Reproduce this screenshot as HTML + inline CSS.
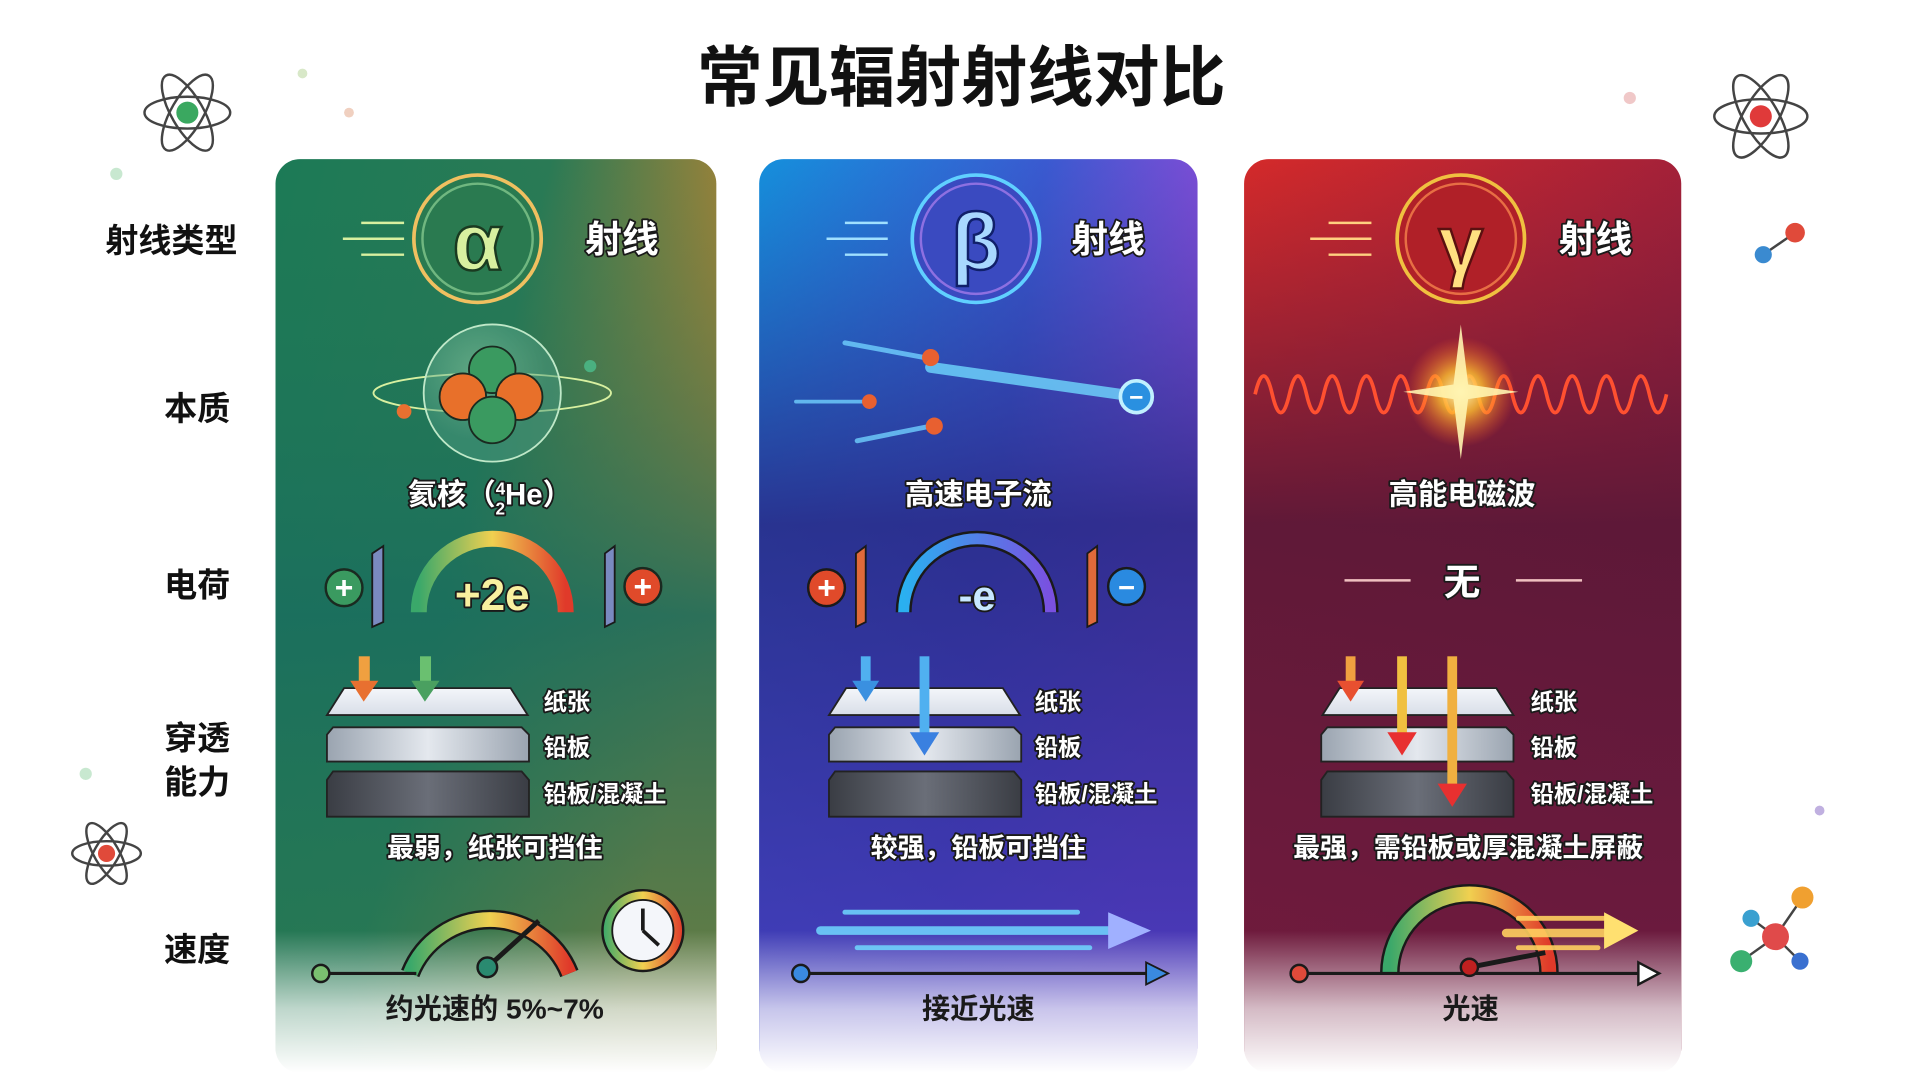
<!DOCTYPE html>
<html><head><meta charset="utf-8"><style>
html,body{margin:0;padding:0;background:#fff;width:1920px;height:1072px;overflow:hidden}
svg{display:block}
text{font-family:"Liberation Sans","Noto Sans CJK SC",sans-serif;font-weight:700}
.w{fill:#fff;stroke:#1a1a1a;stroke-width:3;paint-order:stroke;stroke-linejoin:round}
.lab{fill:#111;font-size:27px}
</style></head><body>
<svg width="1920" height="1072" viewBox="0 0 1568 875.5" preserveAspectRatio="none" xmlns="http://www.w3.org/2000/svg">
<defs>
<linearGradient id="g1" x1="0" y1="0" x2="1" y2="0.5"><stop offset="0" stop-color="#1c7a56"/><stop offset="0.5" stop-color="#2a7a55"/><stop offset="1" stop-color="#d9862a"/></linearGradient>
<linearGradient id="g1b" x1="0" y1="0" x2="0" y2="1"><stop offset="0" stop-color="#1e7655" stop-opacity="0"/><stop offset="0.5" stop-color="#1a6e5e" stop-opacity="0.9"/><stop offset="1" stop-color="#2a7a50" stop-opacity="0.6"/></linearGradient>
<linearGradient id="g2" x1="0" y1="0" x2="1" y2="0.3"><stop offset="0" stop-color="#1590dc"/><stop offset="0.6" stop-color="#3a5ad0"/><stop offset="1" stop-color="#8a4ad6"/></linearGradient>
<linearGradient id="g2b" x1="0" y1="0" x2="0" y2="1"><stop offset="0" stop-color="#2a3aa0" stop-opacity="0"/><stop offset="0.4" stop-color="#2a2a88" stop-opacity="0.9"/><stop offset="1" stop-color="#4a3ac0" stop-opacity="0.9"/></linearGradient>
<linearGradient id="g3" x1="0" y1="0" x2="1" y2="0.3"><stop offset="0" stop-color="#d42a2a"/><stop offset="1" stop-color="#a0203a"/></linearGradient>
<linearGradient id="g3b" x1="0" y1="0" x2="0" y2="1"><stop offset="0" stop-color="#6a1a3a" stop-opacity="0"/><stop offset="0.4" stop-color="#5a1838" stop-opacity="0.95"/><stop offset="1" stop-color="#6a1a40" stop-opacity="0.9"/></linearGradient>
<linearGradient id="fade" x1="0" y1="0" x2="0" y2="1"><stop offset="0" stop-color="#fff" stop-opacity="0"/><stop offset="0.55" stop-color="#fff" stop-opacity="0.7"/><stop offset="1" stop-color="#fff" stop-opacity="1"/></linearGradient>
<linearGradient id="paper" x1="0" y1="0" x2="0" y2="1"><stop offset="0" stop-color="#f4f6fa"/><stop offset="1" stop-color="#d8dee8"/></linearGradient>
<linearGradient id="lead" x1="0" y1="0" x2="1" y2="0"><stop offset="0" stop-color="#9aa4b0"/><stop offset="0.5" stop-color="#e4e8ee"/><stop offset="1" stop-color="#9aa4b0"/></linearGradient>
<linearGradient id="conc" x1="0" y1="0" x2="1" y2="0"><stop offset="0" stop-color="#3a3d44"/><stop offset="0.5" stop-color="#6a6e78"/><stop offset="1" stop-color="#3a3d44"/></linearGradient>
<linearGradient id="rain" x1="0" y1="0" x2="1" y2="0"><stop offset="0" stop-color="#3aa86a"/><stop offset="0.5" stop-color="#f0d050"/><stop offset="1" stop-color="#e03a2a"/></linearGradient>
<linearGradient id="blu" x1="0" y1="0" x2="1" y2="0"><stop offset="0" stop-color="#2ab0f0"/><stop offset="1" stop-color="#7a50e0"/></linearGradient>
<linearGradient id="div" x1="0" y1="0" x2="1" y2="0"><stop offset="0" stop-color="#8ee08a"/><stop offset="1" stop-color="#f0a040"/></linearGradient>
<linearGradient id="div2" x1="0" y1="0" x2="1" y2="0"><stop offset="0" stop-color="#40c0f0"/><stop offset="1" stop-color="#a070f0"/></linearGradient>
<linearGradient id="div3" x1="0" y1="0" x2="1" y2="0"><stop offset="0" stop-color="#f06040"/><stop offset="1" stop-color="#f0c040"/></linearGradient>
<radialGradient id="flash"><stop offset="0" stop-color="#fff8c0"/><stop offset="0.4" stop-color="#ffc030" stop-opacity="0.8"/><stop offset="1" stop-color="#ff6020" stop-opacity="0"/></radialGradient>
<radialGradient id="bub" cx="0.4" cy="0.35"><stop offset="0" stop-color="#9ed8b0" stop-opacity="0.5"/><stop offset="1" stop-color="#4a9a80" stop-opacity="0.5"/></radialGradient>
</defs>

<!-- title -->
<text x="785" y="82" text-anchor="middle" font-size="54" fill="#111">常见辐射射线对比</text>

<!-- row labels -->
<g class="lab" text-anchor="middle">
<text x="140" y="206">射线类型</text>
<text x="161" y="343">本质</text>
<text x="161" y="487">电荷</text>
<text x="161" y="612">穿透</text>
<text x="161" y="648">能力</text>
<text x="161" y="785">速度</text>
</g>

<!-- decorations -->
<g fill="none" stroke="#444" stroke-width="2">
<ellipse cx="153" cy="92" rx="35" ry="13"/><ellipse cx="153" cy="92" rx="35" ry="13" transform="rotate(60 153 92)"/><ellipse cx="153" cy="92" rx="35" ry="13" transform="rotate(-60 153 92)"/>
<ellipse cx="1438" cy="95" rx="38" ry="14"/><ellipse cx="1438" cy="95" rx="38" ry="14" transform="rotate(60 1438 95)"/><ellipse cx="1438" cy="95" rx="38" ry="14" transform="rotate(-60 1438 95)"/>
<ellipse cx="87" cy="697" rx="28" ry="10"/><ellipse cx="87" cy="697" rx="28" ry="10" transform="rotate(60 87 697)"/><ellipse cx="87" cy="697" rx="28" ry="10" transform="rotate(-60 87 697)"/>
<line x1="1440" y1="208" x2="1466" y2="190"/>
<line x1="1430" y1="750" x2="1450" y2="765"/><line x1="1472" y1="733" x2="1450" y2="765"/><line x1="1422" y1="785" x2="1450" y2="765"/><line x1="1470" y1="785" x2="1450" y2="765"/>
</g>
<circle cx="153" cy="92" r="9" fill="#3aa860"/><circle cx="1438" cy="95" r="9" fill="#e03a3a"/><circle cx="87" cy="697" r="7" fill="#e04a3a"/>
<circle cx="1440" cy="208" r="7" fill="#3a8ad0"/><circle cx="1466" cy="190" r="8" fill="#e04a3a"/>
<circle cx="1450" cy="765" r="11" fill="#e04a4a"/><circle cx="1430" cy="750" r="7" fill="#3aa0d0"/><circle cx="1472" cy="733" r="9" fill="#f0a030"/><circle cx="1422" cy="785" r="9" fill="#3ab070"/><circle cx="1470" cy="785" r="7" fill="#3a70d0"/>
<circle cx="247" cy="60" r="4" fill="#d8e8c8"/><circle cx="285" cy="92" r="4" fill="#f0d0c0"/><circle cx="95" cy="142" r="5" fill="#c8e8d0"/><circle cx="1331" cy="80" r="5" fill="#f0c8c8"/><circle cx="70" cy="632" r="5" fill="#c8e8d0"/><circle cx="1486" cy="662" r="4" fill="#c0b0e0"/>

<!-- CARD 1 -->
<g>
<rect x="225" y="130" width="360" height="746" rx="20" fill="url(#g1)"/>
<rect x="225" y="130" width="360" height="746" rx="20" fill="url(#g1b)"/>
<rect x="225" y="760" width="360" height="116" fill="url(#fade)"/>
<g stroke="url(#div)" stroke-width="2"><line x1="248" y1="242" x2="560" y2="242"/><line x1="248" y1="427" x2="560" y2="427"/><line x1="248" y1="523" x2="560" y2="523"/><line x1="248" y1="714" x2="560" y2="714"/></g>
<g stroke="#d8f0a0" stroke-width="2"><line x1="295" y1="182" x2="330" y2="182"/><line x1="280" y1="195" x2="330" y2="195"/><line x1="295" y1="208" x2="330" y2="208"/></g>
<circle cx="390" cy="195" r="52" fill="#2a7a50" stroke="#f0c060" stroke-width="3"/>
<circle cx="390" cy="195" r="45" fill="none" stroke="#a0e0a0" stroke-width="2" opacity="0.6"/>
<text x="390" y="220" text-anchor="middle" font-size="66" font-family="Liberation Serif,serif" fill="#d8f0a0" stroke="#1a3a20" stroke-width="2">α</text>
<text x="508" y="206" text-anchor="middle" font-size="30" class="w">射线</text>
<ellipse cx="402" cy="321" rx="97" ry="16" fill="none" stroke="#d8f0a0" stroke-width="1.5"/>
<circle cx="402" cy="321" r="56" fill="url(#bub)" stroke="#bfe8c8" stroke-width="1.5"/>
<circle cx="402" cy="302" r="19" fill="#3a9a60" stroke="#1a2a20" stroke-width="1.5"/>
<circle cx="378" cy="324" r="19" fill="#e8702a" stroke="#1a2a20" stroke-width="1.5"/>
<circle cx="424" cy="324" r="19" fill="#e8702a" stroke="#1a2a20" stroke-width="1.5"/>
<circle cx="402" cy="343" r="19" fill="#3a9a60" stroke="#1a2a20" stroke-width="1.5"/>
<circle cx="330" cy="336" r="6" fill="#e87030"/><circle cx="482" cy="299" r="5" fill="#4ab080"/>
<text x="400" y="412" text-anchor="middle" font-size="24" class="w">氦核（<tspan font-size="14" dy="-8">4</tspan><tspan font-size="14" dx="-8" dy="16">2</tspan><tspan dy="-8">He）</tspan></text>
<circle cx="281" cy="480" r="15" fill="#3a9a60" stroke="#1a2a20" stroke-width="2"/><text x="281" y="489" text-anchor="middle" font-size="26" fill="#fff">+</text>
<polygon points="304,452 313,446 313,508 304,512" fill="#7a8ac0" stroke="#1a1a1a" stroke-width="1.5"/>
<path d="M342 500 A60 60 0 0 1 462 500" fill="none" stroke="url(#rain)" stroke-width="13"/>
<text x="402" y="498" text-anchor="middle" font-size="36" fill="#f8f0a0" class="w" style="fill:#f8f0a0">+2e</text>
<polygon points="494,452 502,446 502,508 494,512" fill="#7a8ac0" stroke="#1a1a1a" stroke-width="1.5"/>
<circle cx="525" cy="479" r="15" fill="#e04a2a" stroke="#1a2a20" stroke-width="2"/><text x="525" y="488" text-anchor="middle" font-size="26" fill="#fff">+</text>
<polygon points="281,562 417,562 431,584 267,584" fill="url(#paper)" stroke="#222" stroke-width="1.5"/>
<polygon points="272,594 426,594 432,600 432,622 267,622 267,600" fill="url(#lead)" stroke="#222" stroke-width="1.5"/>
<polygon points="272,630 426,630 432,637 432,667 267,667 267,637" fill="url(#conc)" stroke="#222" stroke-width="1.5"/>
<rect x="293" y="536" width="9" height="22" fill="#f0a040"/><polygon points="286,556 309,556 297,573" fill="#e87030"/>
<rect x="343" y="536" width="9" height="22" fill="#6ac070"/><polygon points="336,556 359,556 347,573" fill="#4aa060"/>
<g font-size="19" class="w"><text x="444" y="580">纸张</text><text x="444" y="617">铅板</text><text x="444" y="655">铅板/混凝土</text></g>
<text x="404" y="700" text-anchor="middle" font-size="22" class="w">最弱，纸张可挡住</text>
<path d="M335 795 A70 70 0 0 1 465 795" fill="none" stroke="#1a1a1a" stroke-width="16"/>
<path d="M335 795 A70 70 0 0 1 465 795" fill="none" stroke="url(#rain)" stroke-width="12"/>
<line x1="262" y1="795" x2="340" y2="795" stroke="#1a1a1a" stroke-width="2.5"/><circle cx="262" cy="795" r="7" fill="#7ac070" stroke="#1a1a1a" stroke-width="2"/>
<line x1="398" y1="790" x2="440" y2="752" stroke="#1a1a1a" stroke-width="4"/><circle cx="398" cy="790" r="8" fill="#2a8a70" stroke="#1a1a1a" stroke-width="2"/>
<circle cx="525" cy="760" r="33" fill="url(#rain)" stroke="#1a1a1a" stroke-width="2"/><circle cx="525" cy="760" r="25" fill="#f4f6fa" stroke="#1a1a1a" stroke-width="1.5"/>
<line x1="525" y1="760" x2="525" y2="742" stroke="#1a1a1a" stroke-width="3"/><line x1="525" y1="760" x2="538" y2="772" stroke="#1a1a1a" stroke-width="3"/>
<text x="404" y="832" text-anchor="middle" font-size="23" fill="#1a1a1a">约光速的 5%~7%</text>
</g>

<!-- CARD 2 -->
<g>
<rect x="620" y="130" width="358" height="746" rx="20" fill="url(#g2)"/>
<rect x="620" y="130" width="358" height="746" rx="20" fill="url(#g2b)"/>
<rect x="620" y="760" width="358" height="116" fill="url(#fade)"/>
<g stroke="url(#div2)" stroke-width="2"><line x1="643" y1="242" x2="955" y2="242"/><line x1="643" y1="427" x2="955" y2="427"/><line x1="643" y1="523" x2="955" y2="523"/><line x1="643" y1="714" x2="955" y2="714"/></g>
<g stroke="#a0e0ff" stroke-width="2"><line x1="690" y1="182" x2="725" y2="182"/><line x1="675" y1="195" x2="725" y2="195"/><line x1="690" y1="208" x2="725" y2="208"/></g>
<circle cx="797" cy="195" r="52" fill="#3a4ac0" stroke="#60d0ff" stroke-width="3"/>
<circle cx="797" cy="195" r="45" fill="none" stroke="#b080f0" stroke-width="2" opacity="0.7"/>
<text x="797" y="220" text-anchor="middle" font-size="66" font-family="Liberation Serif,serif" fill="#a8d8ff" stroke="#10206a" stroke-width="2">β</text>
<text x="905" y="206" text-anchor="middle" font-size="30" class="w">射线</text>
<g stroke-linecap="round">
<line x1="690" y1="280" x2="755" y2="292" stroke="#70d0ff" stroke-width="4" opacity="0.8"/>
<line x1="760" y1="300" x2="915" y2="322" stroke="#70d8ff" stroke-width="9" opacity="0.8"/>
<line x1="650" y1="328" x2="705" y2="328" stroke="#70d0ff" stroke-width="3" opacity="0.8"/>
<line x1="700" y1="360" x2="760" y2="348" stroke="#70d0ff" stroke-width="4" opacity="0.8"/>
</g>
<circle cx="760" cy="292" r="7" fill="#e86030"/><circle cx="710" cy="328" r="6" fill="#e86030"/><circle cx="763" cy="348" r="7" fill="#e86030"/>
<circle cx="928" cy="324" r="13" fill="#2a90e0" stroke="#c0f0ff" stroke-width="3"/><text x="928" y="331" text-anchor="middle" font-size="20" fill="#fff">−</text>
<text x="799" y="412" text-anchor="middle" font-size="24" class="w">高速电子流</text>
<circle cx="675" cy="480" r="15" fill="#e04a2a" stroke="#1a1a1a" stroke-width="2"/><text x="675" y="489" text-anchor="middle" font-size="26" fill="#fff">+</text>
<polygon points="699,452 707,446 707,508 699,512" fill="#e06a3a" stroke="#1a1a1a" stroke-width="1.5"/>
<path d="M738 500 A60 60 0 0 1 858 500" fill="none" stroke="#1a1a1a" stroke-width="13"/>
<path d="M738 500 A60 60 0 0 1 858 500" fill="none" stroke="url(#blu)" stroke-width="9"/>
<text x="798" y="498" text-anchor="middle" font-size="34" class="w" style="fill:#c8e8ff">-e</text>
<polygon points="888,452 896,446 896,508 888,512" fill="#e06a3a" stroke="#1a1a1a" stroke-width="1.5"/>
<circle cx="920" cy="479" r="15" fill="#2a8ae0" stroke="#1a1a1a" stroke-width="2"/><text x="920" y="488" text-anchor="middle" font-size="24" fill="#fff">−</text>
<polygon points="691,562 819,562 833,584 677,584" fill="url(#paper)" stroke="#222" stroke-width="1.5"/>
<polygon points="682,594 828,594 834,600 834,622 677,622 677,600" fill="url(#lead)" stroke="#222" stroke-width="1.5"/>
<polygon points="682,630 828,630 834,637 834,667 677,667 677,637" fill="url(#conc)" stroke="#222" stroke-width="1.5"/>
<rect x="703" y="536" width="8" height="22" fill="#50b0f0"/><polygon points="696,556 718,556 707,573" fill="#3a90e0"/>
<rect x="751" y="536" width="8" height="64" fill="#50b0f0"/><polygon points="743,598 767,598 755,617" fill="#3a80e0"/>
<g font-size="19" class="w"><text x="845" y="580">纸张</text><text x="845" y="617">铅板</text><text x="845" y="655">铅板/混凝土</text></g>
<text x="799" y="700" text-anchor="middle" font-size="22" class="w">较强，铅板可挡住</text>
<g stroke-linecap="round" stroke="#70d8ff" opacity="0.85"><line x1="690" y1="745" x2="880" y2="745" stroke-width="4"/><line x1="670" y1="760" x2="910" y2="760" stroke-width="7"/><line x1="700" y1="774" x2="890" y2="774" stroke-width="4"/></g>
<polygon points="905,745 940,760 905,775" fill="#a0b0ff"/>
<line x1="654" y1="795" x2="940" y2="795" stroke="#1a1a1a" stroke-width="2.5"/><circle cx="654" cy="795" r="7" fill="#3a8ae0" stroke="#1a1a1a" stroke-width="2"/>
<polygon points="936,786 954,795 936,804" fill="#3a8ae0" stroke="#1a1a1a" stroke-width="1.5"/>
<text x="799" y="832" text-anchor="middle" font-size="23" fill="#1a1a1a">接近光速</text>
</g>

<!-- CARD 3 -->
<g>
<rect x="1016" y="130" width="357" height="746" rx="20" fill="url(#g3)"/>
<rect x="1016" y="130" width="357" height="746" rx="20" fill="url(#g3b)"/>
<rect x="1016" y="760" width="357" height="116" fill="url(#fade)"/>
<g stroke="url(#div3)" stroke-width="2"><line x1="1039" y1="242" x2="1350" y2="242"/><line x1="1039" y1="427" x2="1350" y2="427"/><line x1="1039" y1="523" x2="1350" y2="523"/><line x1="1039" y1="714" x2="1350" y2="714"/></g>
<g stroke="#ffd080" stroke-width="2"><line x1="1085" y1="182" x2="1120" y2="182"/><line x1="1070" y1="195" x2="1120" y2="195"/><line x1="1085" y1="208" x2="1120" y2="208"/></g>
<circle cx="1193" cy="195" r="52" fill="#b02028" stroke="#f0c040" stroke-width="3"/>
<circle cx="1193" cy="195" r="45" fill="none" stroke="#ff9050" stroke-width="2" opacity="0.7"/>
<text x="1193" y="222" text-anchor="middle" font-size="66" font-family="Liberation Serif,serif" fill="#ffe080" stroke="#5a1010" stroke-width="2">γ</text>
<text x="1303" y="206" text-anchor="middle" font-size="30" class="w">射线</text>
<path d="M1025 322 q7 -30 14 0 t14 0 t14 0 t14 0 t14 0 t14 0 t14 0 t14 0 t14 0 t14 0 t14 0 t14 0 t14 0 t14 0 t14 0 t14 0 t14 0 t14 0 t14 0 t14 0 t14 0 t14 0 t14 0 t14 0" fill="none" stroke="#ff5030" stroke-width="3"/>
<circle cx="1193" cy="320" r="45" fill="url(#flash)"/>
<polygon points="1193,265 1199,314 1240,320 1199,326 1193,375 1187,326 1146,320 1187,314" fill="#fff4b0" opacity="0.9"/>
<text x="1194" y="412" text-anchor="middle" font-size="24" class="w">高能电磁波</text>
<g stroke="#f0c0c0" stroke-width="2"><line x1="1098" y1="474" x2="1152" y2="474"/><line x1="1238" y1="474" x2="1292" y2="474"/></g>
<text x="1194" y="486" text-anchor="middle" font-size="30" class="w">无</text>
<polygon points="1094,562 1222,562 1236,584 1080,584" fill="url(#paper)" stroke="#222" stroke-width="1.5"/>
<polygon points="1084,594 1230,594 1236,600 1236,622 1079,622 1079,600" fill="url(#lead)" stroke="#222" stroke-width="1.5"/>
<polygon points="1084,630 1230,630 1236,637 1236,667 1079,667 1079,637" fill="url(#conc)" stroke="#222" stroke-width="1.5"/>
<rect x="1099" y="536" width="8" height="22" fill="#f0a040"/><polygon points="1092,556 1114,556 1103,573" fill="#e85030"/>
<rect x="1141" y="536" width="8" height="64" fill="#f0c040"/><polygon points="1133,598 1157,598 1145,617" fill="#e83030"/>
<rect x="1182" y="536" width="8" height="106" fill="#f0b040"/><polygon points="1174,640 1198,640 1186,659" fill="#e83030"/>
<g font-size="19" class="w"><text x="1250" y="580">纸张</text><text x="1250" y="617">铅板</text><text x="1250" y="655">铅板/混凝土</text></g>
<text x="1199" y="700" text-anchor="middle" font-size="22" class="w">最强，需铅板或厚混凝土屏蔽</text>
<path d="M1135 795 A65 65 0 0 1 1265 795" fill="none" stroke="#1a1a1a" stroke-width="16"/>
<path d="M1135 795 A65 65 0 0 1 1265 795" fill="none" stroke="url(#rain)" stroke-width="12"/>
<g stroke-linecap="round" stroke="#ffd060" opacity="0.9"><line x1="1240" y1="750" x2="1310" y2="750" stroke-width="4"/><line x1="1230" y1="762" x2="1315" y2="762" stroke-width="7"/><line x1="1240" y1="774" x2="1305" y2="774" stroke-width="4"/></g>
<polygon points="1310,745 1338,760 1310,775" fill="#ffe070"/>
<line x1="1061" y1="795" x2="1345" y2="795" stroke="#1a1a1a" stroke-width="2.5"/><circle cx="1061" cy="795" r="7" fill="#e04a3a" stroke="#1a1a1a" stroke-width="2"/>
<polygon points="1338,786 1355,795 1338,804" fill="#fff" stroke="#1a1a1a" stroke-width="2"/>
<line x1="1200" y1="790" x2="1262" y2="778" stroke="#1a1a1a" stroke-width="4"/><circle cx="1200" cy="790" r="7" fill="#c02020" stroke="#1a1a1a" stroke-width="2"/>
<text x="1201" y="832" text-anchor="middle" font-size="23" fill="#1a1a1a">光速</text>
</g>
</svg>
</body></html>
